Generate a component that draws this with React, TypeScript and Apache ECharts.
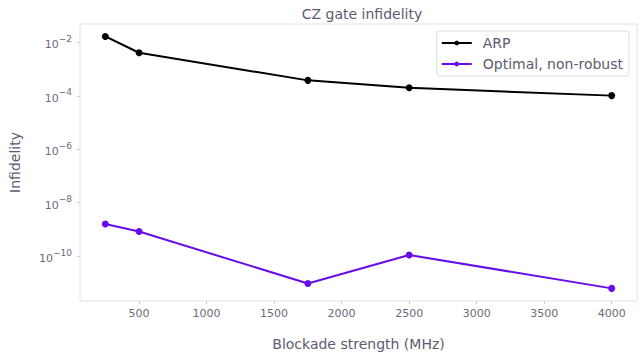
import React, { useEffect, useRef } from "react";
import * as echarts from "echarts";

const blockadeMHz = [250, 500, 1750, 2500, 4000];
const arpInfidelity = [1.68e-2, 4.1e-3, 3.8e-4, 2.0e-4, 1.02e-4];
const optimalInfidelity = [1.6e-9, 8.3e-10, 9.5e-12, 1.1e-10, 6.2e-12];
const xTicks = [500, 1000, 1500, 2000, 2500, 3000, 3500, 4000];
const yTickExponents = [-10, -8, -6, -4, -2];

const TEXT = "#5f5a6f";
const TICK_TEXT = "#6b6b76";
const FONT = "DejaVu Sans";

export default function App() {
  const ref = useRef<HTMLDivElement>(null);
  useEffect(() => {
    if (!ref.current) return;
    const chart = echarts.init(ref.current, null, { renderer: "svg" });
    const toPts = (vals: number[]) => blockadeMHz.map((x, i) => [x, Math.log10(vals[i])]);
    chart.setOption({
      animation: false,
      backgroundColor: "#ffffff",
      textStyle: { fontFamily: FONT },
      title: {
        text: "CZ gate infidelity",
        left: 357,
        textAlign: "center",
        top: 2,
        textStyle: { fontFamily: FONT, fontSize: 14, fontWeight: "normal", color: TEXT },
      },
      grid: {
        left: 79,
        right: 5,
        top: 24,
        bottom: 56,
        show: true,
        borderColor: "#e2e2e2",
        borderWidth: 1,
        backgroundColor: "transparent",
      },
      legend: {
        right: 13,
        top: 31,
        orient: "vertical",
        itemWidth: 30,
        itemHeight: 6,
        itemGap: 7,
        padding: [5, 6, 5, 4],
        backgroundColor: "#ffffff",
        borderColor: "#dcdcdc",
        borderWidth: 1,
        borderRadius: 3,
        textStyle: { fontFamily: FONT, fontSize: 14, lineHeight: 14, color: TEXT, padding: [0, 0, 0, 6] },
        data: ["ARP", "Optimal, non-robust"],
      },
      xAxis: {
        type: "value",
        min: 62.5,
        max: 4187.5,
        name: "Blockade strength (MHz)",
        nameLocation: "middle",
        nameGap: 36,
        nameTextStyle: { fontFamily: FONT, fontSize: 14, color: TEXT },
        axisLine: { show: false },
        splitLine: { show: false },
        axisTick: {
          show: true,
          customValues: xTicks,
          length: 3,
          lineStyle: { color: "#cfcfcf" },
        },
        axisLabel: {
          customValues: xTicks,
          formatter: (v: number) => String(v),
          fontFamily: FONT,
          fontSize: 11,
          color: TICK_TEXT,
          margin: 7,
        },
      },
      yAxis: {
        type: "value",
        min: -11.68,
        max: -1.31,
        name: "Infidelity",
        nameLocation: "middle",
        nameGap: 58,
        nameTextStyle: { fontFamily: FONT, fontSize: 14, color: TEXT },
        axisLine: { show: false },
        splitLine: { show: false },
        axisTick: {
          show: true,
          customValues: yTickExponents,
          length: 3,
          lineStyle: { color: "#cfcfcf" },
        },
        axisLabel: {
          customValues: yTickExponents,
          margin: 8,
          formatter: (v: number) => `{b|10}{s|\u2212${Math.round(-v)}}`,
          rich: {
            b: { fontFamily: FONT, fontSize: 11, color: TICK_TEXT, lineHeight: 16, verticalAlign: "bottom" },
            s: { fontFamily: FONT, fontSize: 9, color: TICK_TEXT, lineHeight: 16, verticalAlign: "top" },
          },
        },
      },
      series: [
        {
          name: "ARP",
          type: "line",
          data: toPts(arpInfidelity),
          color: "#000000",
          symbol: "circle",
          symbolSize: 7,
          lineStyle: { width: 2, color: "#000000" },
          itemStyle: { color: "#000000" },
        },
        {
          name: "Optimal, non-robust",
          type: "line",
          data: toPts(optimalInfidelity),
          color: "#680CE9",
          symbol: "circle",
          symbolSize: 7,
          lineStyle: { width: 2, color: "#680CE9" },
          itemStyle: { color: "#680CE9" },
        },
      ],
    });
    return () => chart.dispose();
  }, []);
  return (
    <div
      ref={ref}
      style={{ position: "absolute", left: 0, top: 0, width: 642, height: 357 }}
    />
  );
}
